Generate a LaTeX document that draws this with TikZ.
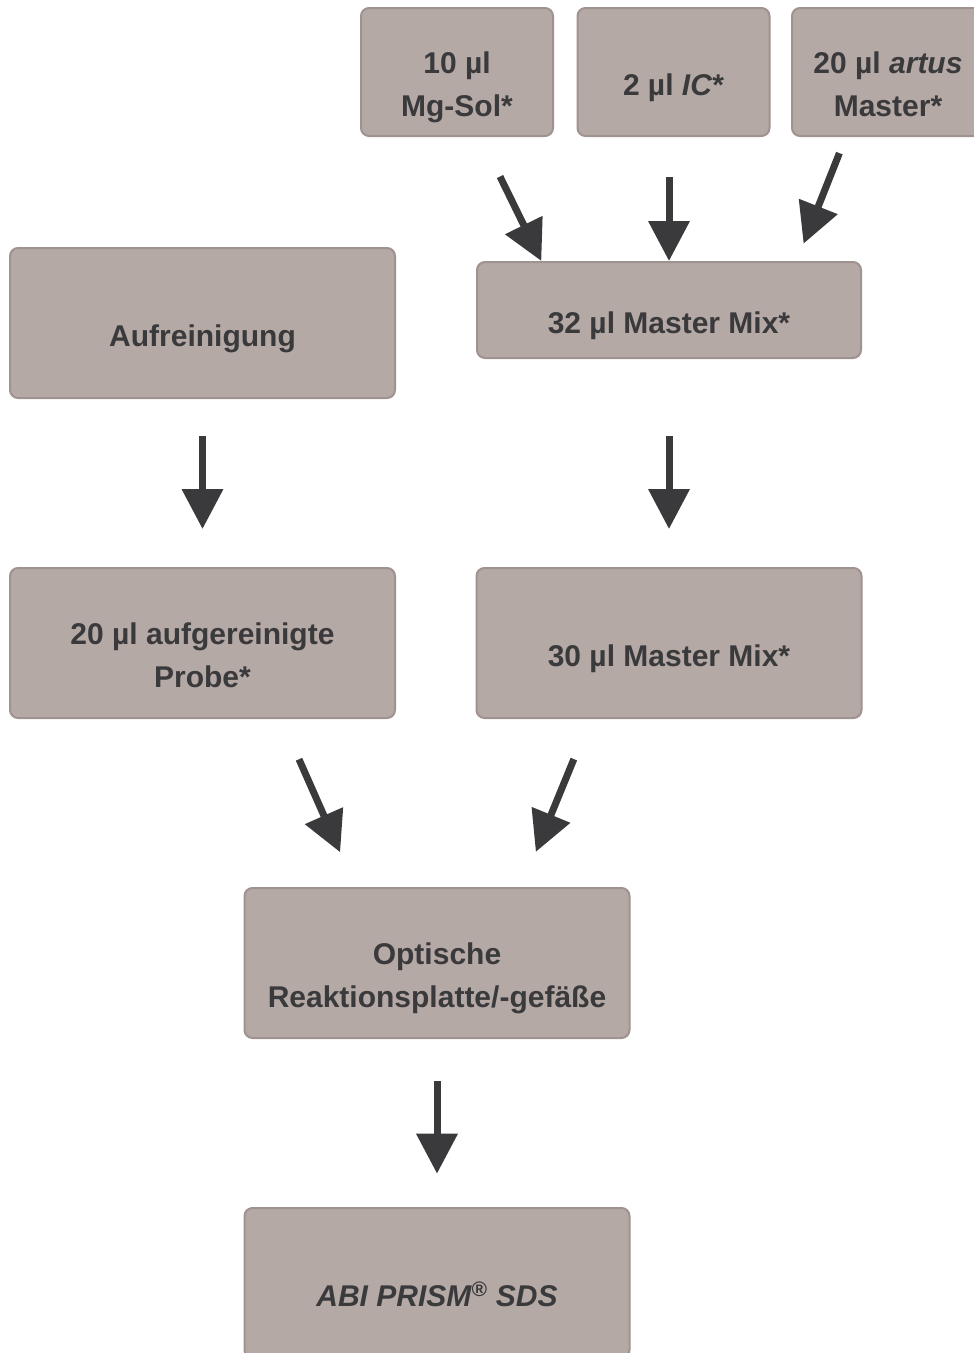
\documentclass[tikz,border=0pt]{standalone}
\usepackage{fontspec}
\setmainfont{Liberation Sans}
\usetikzlibrary{arrows.meta}
\definecolor{boxfill}{HTML}{B5A9A6}
\definecolor{boxline}{HTML}{A0928F}
\definecolor{ink}{HTML}{3A3A3C}
% text sits a little below the middle of each box
\newcommand{\lowtext}[1]{\raisebox{-11pt}[\height][\depth]{\begin{tabular}{@{}c@{}}#1\end{tabular}}}
\tikzset{
  box/.style={draw=boxline, fill=boxfill, line width=1.5pt, rounded corners=6pt,
    text=ink, font=\fontsize{22.5}{32}\selectfont\bfseries, inner sep=0pt},
  topbox/.style={box, minimum width=144pt, minimum height=96pt},
  mixbox/.style={box, minimum width=288pt, minimum height=72pt},
  bigbox/.style={box, minimum width=288.75pt, minimum height=112.5pt},
  flow/.style={draw=ink, line width=5.25pt, -{Triangle[width=30pt,length=30pt]}}
}
\begin{document}
\begin{tikzpicture}[x=0.75pt,y=-0.75pt]
      \useasboundingbox (0,0) rectangle (974,1353);

      % REAGENTS
      \node[topbox] (mg)    at (457,72)   {\lowtext{10 µl\\Mg-Sol*}};
      \node[topbox] (ic)    at (673.5,72) {\lowtext{2 µl \textit{IC}*}};
      \node[topbox] (artus) at (888,72)   {\lowtext{20 µl \textit{artus}\\Master*}};

      % MASTER MIX
      \node[mixbox] (mm32) at (669,310) {\lowtext{32 µl Master Mix*}};
      \node[bigbox] (mm30) at (669,643) {\lowtext{30 µl Master Mix*}};

      % SAMPLE
      \node[bigbox] (auf)   at (202.5,323) {\lowtext{Aufreinigung}};
      \node[bigbox] (probe) at (202.5,643) {\lowtext{20 µl aufgereinigte\\Probe*}};

      % PLATE AND INSTRUMENT
      \node[bigbox] (opt) at (437,963)  {\lowtext{Optische\\Reaktionsplatte/-gefäße}};
      \node[bigbox] (abi) at (437,1283) {\lowtext{\textit{ABI PRISM\textsuperscript{\textregistered} SDS}}};

      % ARROWS
      \draw[flow, shorten <=33pt] (mg.-70) -- (mm32.159.6);
      \draw[flow, shorten <=30pt] (ic.south -| mm32) -- (mm32.north);
      \draw[flow, shorten <=13pt, shorten >=14pt] (artus.-123.9) -- (mm32.21.3);
      \draw[flow, shorten <=28pt, shorten >=28.5pt] (auf.south) -- (probe.north);
      \draw[flow, shorten <=58pt, shorten >=28.5pt] (mm32.south) -- (mm30.north);
      \draw[flow, shorten <=33pt, shorten >=28.5pt] (probe.-44) -- (opt.137.6);
      \draw[flow, shorten <=32.5pt, shorten >=28.5pt] (mm30.-136.5) -- (opt.42.7);
      \draw[flow, shorten <=31.5pt, shorten >=25pt] (opt.south) -- (abi.north);
    \end{tikzpicture}
\end{document}
